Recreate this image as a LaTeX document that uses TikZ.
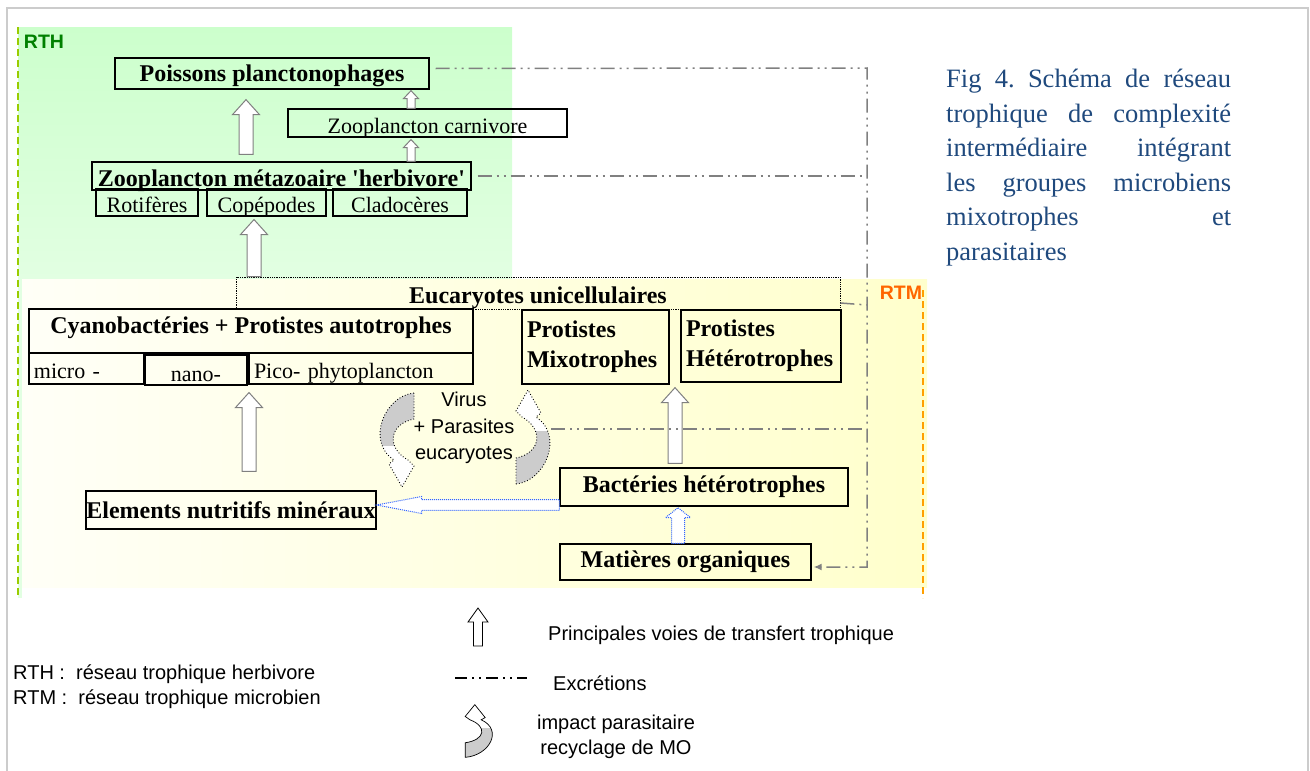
\documentclass[tikz,border=0pt]{standalone}
\usepackage{fontspec}
\setmainfont{Liberation Serif}
\newfontfamily\arialfont{Liberation Sans}
\usetikzlibrary{calc,arrows.meta}

\definecolor{rthgreen}{RGB}{204,255,204}
\definecolor{rthpale}{RGB}{226,255,226}
\definecolor{rtmyellow}{RGB}{255,255,204}
\definecolor{rtmpale}{RGB}{255,255,247}
\definecolor{rthtext}{RGB}{0,128,0}
\definecolor{rtmtext}{RGB}{255,102,0}
\definecolor{rthline}{RGB}{153,204,0}
\definecolor{rtmline}{RGB}{255,160,0}
\definecolor{capblue}{RGB}{31,73,125}
\definecolor{framegray}{RGB}{204,204,204}
\definecolor{excrgray}{RGB}{128,128,128}
\definecolor{loopgray}{RGB}{204,204,204}
\definecolor{bluedot}{RGB}{50,100,255}

% outline of the curved parasite arrow, head pointing down
\newcommand\loopshape{(16,-47) .. controls (-14,-44) and (-32,2) .. (-4,20) -- (-9,24) -- (4,47) -- (16,26) -- (10,20) .. controls (-12,8) and (-9,-16) .. (16,-21) -- cycle}

\tikzset{
  bshaft/.store in=\bshaft, bhead/.store in=\bhead, blen/.store in=\blen,
  bshaft=7pt, bhead=13.5pt, blen=15pt,
  % hollow block arrow
  fat/.style={draw=excrgray, line width=1pt, fill=white, to path={
      ($(\tikztostart)!\bshaft!90:(\tikztotarget)$)
      -- ($($(\tikztotarget)!\blen!(\tikztostart)$)!\bshaft!90:(\tikztotarget)$)
      -- ($($(\tikztotarget)!\blen!(\tikztostart)$)!\bhead!90:(\tikztotarget)$)
      -- (\tikztotarget)
      -- ($($(\tikztotarget)!\blen!(\tikztostart)$)!\bhead!-90:(\tikztotarget)$)
      -- ($($(\tikztotarget)!\blen!(\tikztostart)$)!\bshaft!-90:(\tikztotarget)$)
      -- ($(\tikztostart)!\bshaft!-90:(\tikztotarget)$) -- cycle}},
  paraloop/.pic={
    \fill[white] \loopshape;
    \begin{scope}
      \clip \loopshape;
      \fill[loopgray] (-25,-50) rectangle (25,6);
    \end{scope}
    \draw \loopshape;
  }
}

\begin{document}
\begin{tikzpicture}[x=1pt, y=-1pt,
  box/.style={draw, line width=1.3pt, inner sep=0pt, font=\fontsize{24}{30}\selectfont\bfseries},
  plain/.style={draw, line width=1.1pt, inner sep=0pt, text height=20pt, text depth=0pt, font=\fontsize{22}{26}\selectfont},
  sans/.style={inner sep=0pt, font=\arialfont\fontsize{20}{26.5}\selectfont},
  zone/.style={inner sep=0pt, font=\arialfont\bfseries\fontsize{19.5}{20}\selectfont},
  excr/.style={draw=excrgray, line width=1.5pt, dash pattern=on 14pt off 5pt on 2pt off 5pt on 2pt off 5pt}]
  \useasboundingbox (0,0) rectangle (1310,771);
  % frame and zones
  \draw[framegray, line width=2pt] (7,771) -- (7,8) -- (1308,8) -- (1308,771);
  \fill[top color=rthgreen, bottom color=rthpale] (18,27) rectangle (512,279);
  \fill[rthpale] (18,279) rectangle (22,598);
  \fill[left color=rtmpale, right color=rtmyellow] (22,279) rectangle (927,587);
  \draw[rthline, line width=1.5pt, dash pattern=on 7pt off 4pt] (18,27) -- (18,598);
  \draw[rtmline, line width=1.5pt, dash pattern=on 7pt off 4pt] (923,290) -- (923,598);
  \node[zone, text=rthtext] (rth) at (44,42) {RTH};
  \node[zone, text=rtmtext] (rtm) at (901,293) {RTM};

  % herbivore web
  \node[box, text depth=0pt, minimum width=314, minimum height=31] (pois) at (272,73.5) {Poissons planctonophages};
  \node[plain, minimum width=279, minimum height=28] (carn) at (427.5,123) {Zooplancton carnivore};
  \node[box, text height=20pt, text depth=0pt, minimum width=379, minimum height=28] (herb) at (281.5,176) {Zooplancton métazoaire \textquotesingle herbivore\textquotesingle};
  \foreach \n/\x/\w/\t in {roti/147/102/Rotifères, cope/266.5/119/Copépodes, clad/400/134/Cladocères}
    \node[plain, minimum width=\w, minimum height=27] (\n) at (\x,202.5) {\t};

  % microbial web
  \node[box, densely dotted, line width=0.8pt, text height=20pt, text depth=0pt, minimum width=604, minimum height=32] (euk) at (538,293) {Eucaryotes unicellulaires};
  \node[box, text height=17pt, text depth=13pt, minimum width=444, minimum height=44] (cyan) at (251,331) {Cyanobactéries + Protistes autotrophes};
  \node[plain, minimum width=115, minimum height=31, text width=105pt, align=left] (micro) at (86.5,368.5) {micro -};
  \node[plain, line width=1.4pt, text height=23pt, minimum width=102, minimum height=30] (nano) at (196,370) {nano-};
  \node[plain, minimum width=224, minimum height=31, text width=214pt, align=left] (pico) at (361,368.5) {Pico- phytoplancton};
  \node[box, minimum width=147, minimum height=74, text width=137pt, align=left] (mixo) at (595.5,347) {Protistes\\Mixotrophes};
  \node[box, minimum width=160, minimum height=72, text width=150pt, align=left] (hete) at (761,346) {Protistes\\Hétérotrophes};
  \node[box, minimum width=290, minimum height=38] (elem) at (231,510) {Elements nutritifs minéraux};
  \node[box, minimum width=288, minimum height=38] (bact) at (704,487) {Bactéries hétérotrophes};
  \node[box, minimum width=251, minimum height=36] (mat) at (685.5,562) {Matières organiques};
  \node[sans, align=center] (vir) at (464,428) {Virus\\+ Parasites\\eucaryotes};
  \pic[dotted, line width=0.9pt] at (398,440) {paraloop};
  \pic[dotted, line width=0.9pt, rotate=180] at (532,437) {paraloop};
  \coordinate (loopR) at (551,429);

  % transfer arrows
  \draw[fat] ([xshift=-284pt]euk.north) to ([xshift=-12.5pt,yshift=-3pt]cope.south);
  \draw[fat] ([xshift=-35.5pt,yshift=7pt]herb.north) to ([xshift=-26pt,yshift=-10pt]pois.south);
  \draw[fat, bshaft=4pt, bhead=7.5pt, blen=8pt] ([xshift=129.5pt]herb.north) to ([xshift=-16.5pt,yshift=-2pt]carn.south);
  \draw[fat, bshaft=4pt, bhead=7.5pt, blen=8pt] ([xshift=-16.5pt]carn.north) to ([xshift=139pt,yshift=-1pt]pois.south);
  \draw[fat] ([xshift=18pt,yshift=19pt]elem.north) to ([xshift=-112pt,yshift=-8pt]pico.south);
  \draw[fat] ([xshift=-29pt,yshift=4pt]bact.north) to ([xshift=-86pt,yshift=-5pt]hete.south);
  \draw[fat, draw=bluedot, densely dotted, bshaft=5.3pt, bhead=8.5pt, blen=45pt] ([yshift=-18pt]bact.west) to ([yshift=5pt]elem.east);
  \draw[fat, draw=bluedot, densely dotted, bshaft=6.5pt, bhead=12.5pt, blen=10pt] ([xshift=-7.5pt]mat.north) to ([xshift=-26pt,yshift=-1pt]bact.south);

  % excretions
  \coordinate (railtop) at (867,68);
  \coordinate (railbot) at (867,567);
  \coordinate (eukR) at (867,305);
  \draw[excr, -{Latex[length=8pt,width=7pt]}] ([xshift=6pt,yshift=5pt]pois.east) -- (railtop) -- (railbot) -- ([xshift=2pt]railbot -| mat.east);
  \draw[excr] ([xshift=6pt]herb.east) -- (herb.east -| railtop);
  \draw[excr] ([yshift=-10pt]euk.east) -- (eukR);
  \draw[excr] (loopR) -- (loopR -| railtop);

  % legend
  \coordinate (lgA) at (478,646);
  \coordinate (lgB) at (478,608);
  \draw[fat, draw=black, line width=0.8pt, bshaft=4.5pt, bhead=10pt, blen=14pt] (lgA) to (lgB);
  \node[sans, anchor=west] (lgtrans) at (548,635) {Principales voies de transfert trophique};
  \coordinate (lgC) at (455,678);
  \coordinate (lgD) at (527,678);
  \draw[line width=1.5pt, dash pattern=on 12pt off 5pt on 2pt off 5pt on 2pt off 5pt] (lgC) -- (lgD);
  \node[sans, anchor=west] (lgexcr) at (553,683) {Excrétions};
  \pic[line width=0.7pt, rotate=180, xscale=0.8, yscale=0.56] at (478,731) {paraloop};
  \node[sans, align=center, font=\arialfont\fontsize{20}{25}\selectfont] (lgpara) at (616,737) {impact parasitaire\\recyclage de MO};
  \node[sans, anchor=west, align=left, font=\arialfont\fontsize{20}{25}\selectfont] (lgweb) at (13,687) {RTH :\ \ réseau trophique herbivore\\RTM :\ \ réseau trophique microbien};

  % caption
  \node[anchor=north west, text width=285pt, align=justify, inner sep=0pt, text=capblue, font=\frenchspacing\fontsize{26.5}{34.5}\selectfont] (cap) at (946,69)
    {Fig 4. Schéma de réseau\linebreak trophique de complexité\linebreak intermédiaire intégrant\linebreak les groupes microbiens\linebreak mixotrophes et\linebreak parasitaires};
\end{tikzpicture}
\end{document}
